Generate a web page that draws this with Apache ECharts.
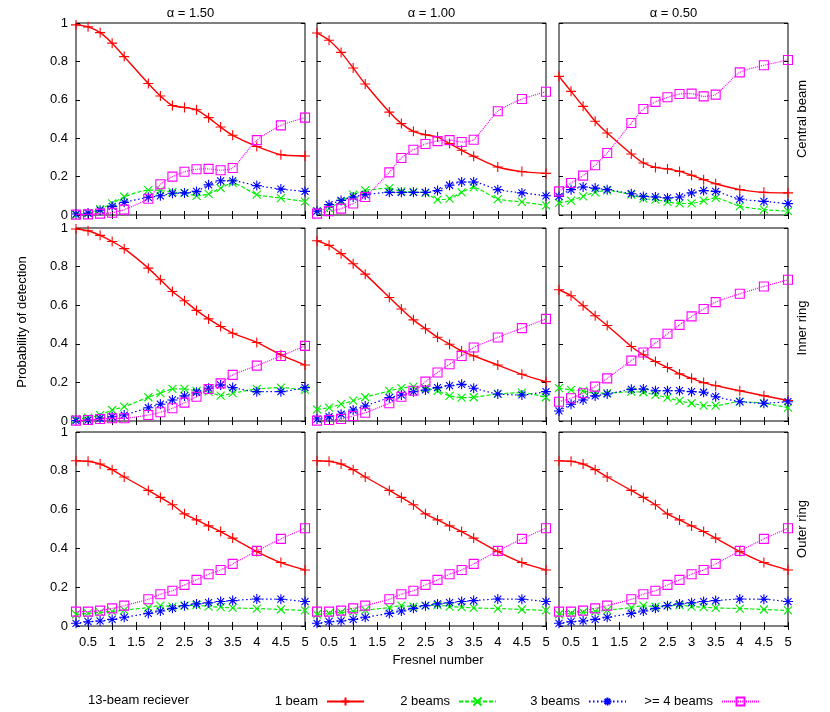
<!DOCTYPE html>
<html>
<head>
<meta charset="utf-8">
<script src="https://cdn.jsdelivr.net/npm/echarts@6/dist/echarts.min.js"></script>
<style>
  html, body { margin: 0; padding: 0; background: #fff; }
  #chart { width: 830px; height: 712px; }
</style>
</head>
<body>
<div id="chart"></div>
<script>
// Fresnel numbers of the sampled points (no point at 1.5)
const fresnel = [0.25, 0.5, 0.75, 1, 1.25, 1.75, 2, 2.25, 2.5, 2.75, 3, 3.25, 3.5, 4, 4.5, 5];
const xTickValues = [0.5, 1, 1.5, 2, 2.5, 3, 3.5, 4, 4.5, 5];
const alphaLabels = ["α = 1.50", "α = 1.00", "α = 0.50"];
const ringLabels = ["Central beam", "Inner ring", "Outer ring"];
const seriesNames = ["1 beam", "2 beams", "3 beams", ">= 4 beams"];

// each panel: [1 beam, 2 beams, 3 beams, >= 4 beams]
const central150 = [
    [0.99, 0.98, 0.95, 0.895, 0.825, 0.685, 0.62, 0.57, 0.56, 0.548, 0.507, 0.458, 0.415, 0.357, 0.314, 0.307],
    [0.0, 0.01, 0.03, 0.06, 0.095, 0.13, 0.128, 0.12, 0.115, 0.1, 0.11, 0.14, 0.167, 0.106, 0.088, 0.07],
    [0.005, 0.01, 0.025, 0.045, 0.066, 0.092, 0.1, 0.113, 0.115, 0.123, 0.157, 0.178, 0.178, 0.153, 0.135, 0.123],
    [0.002, 0.003, 0.007, 0.012, 0.028, 0.085, 0.16, 0.2, 0.225, 0.238, 0.24, 0.233, 0.245, 0.39, 0.467, 0.507],
];
const central100 = [
    [0.948, 0.91, 0.847, 0.766, 0.682, 0.536, 0.476, 0.436, 0.418, 0.406, 0.372, 0.337, 0.306, 0.25, 0.226, 0.217],
    [0.02, 0.036, 0.07, 0.106, 0.128, 0.14, 0.123, 0.12, 0.115, 0.08, 0.085, 0.118, 0.144, 0.083, 0.068, 0.05],
    [0.02, 0.054, 0.076, 0.094, 0.106, 0.118, 0.118, 0.118, 0.118, 0.127, 0.155, 0.172, 0.172, 0.132, 0.115, 0.1],
    [0.007, 0.02, 0.033, 0.06, 0.094, 0.222, 0.297, 0.34, 0.37, 0.385, 0.39, 0.38, 0.392, 0.54, 0.604, 0.642],
];
const central050 = [
    [0.722, 0.644, 0.566, 0.488, 0.427, 0.318, 0.271, 0.248, 0.24, 0.227, 0.207, 0.184, 0.163, 0.132, 0.118, 0.115],
    [0.063, 0.075, 0.097, 0.118, 0.128, 0.106, 0.085, 0.08, 0.068, 0.06, 0.06, 0.075, 0.089, 0.045, 0.028, 0.02],
    [0.097, 0.132, 0.146, 0.14, 0.132, 0.111, 0.097, 0.094, 0.089, 0.094, 0.115, 0.127, 0.123, 0.083, 0.071, 0.059],
    [0.123, 0.167, 0.205, 0.259, 0.323, 0.479, 0.552, 0.589, 0.613, 0.63, 0.632, 0.618, 0.627, 0.743, 0.78, 0.807],
];
const inner150 = [
    [0.995, 0.986, 0.962, 0.93, 0.893, 0.792, 0.732, 0.671, 0.623, 0.573, 0.529, 0.49, 0.455, 0.407, 0.343, 0.29],
    [0.01, 0.017, 0.031, 0.057, 0.074, 0.123, 0.144, 0.166, 0.166, 0.156, 0.152, 0.131, 0.144, 0.166, 0.173, 0.161],
    [0.002, 0.005, 0.014, 0.022, 0.031, 0.069, 0.087, 0.109, 0.13, 0.149, 0.17, 0.187, 0.173, 0.152, 0.152, 0.173],
    [0.002, 0.005, 0.01, 0.014, 0.014, 0.031, 0.045, 0.066, 0.095, 0.126, 0.166, 0.195, 0.239, 0.287, 0.337, 0.389],
];
const inner100 = [
    [0.934, 0.91, 0.867, 0.815, 0.761, 0.64, 0.58, 0.524, 0.478, 0.434, 0.398, 0.363, 0.337, 0.29, 0.242, 0.204],
    [0.06, 0.069, 0.087, 0.105, 0.123, 0.156, 0.17, 0.178, 0.17, 0.156, 0.13, 0.121, 0.123, 0.14, 0.147, 0.123],
    [0.01, 0.022, 0.035, 0.057, 0.078, 0.121, 0.135, 0.152, 0.161, 0.173, 0.183, 0.19, 0.17, 0.14, 0.135, 0.152],
    [0.002, 0.005, 0.01, 0.026, 0.043, 0.092, 0.126, 0.157, 0.204, 0.251, 0.294, 0.337, 0.381, 0.433, 0.481, 0.529],
];
const inner050 = [
    [0.68, 0.649, 0.597, 0.545, 0.495, 0.386, 0.343, 0.308, 0.277, 0.244, 0.221, 0.199, 0.183, 0.157, 0.131, 0.106],
    [0.17, 0.161, 0.156, 0.144, 0.144, 0.152, 0.149, 0.135, 0.121, 0.104, 0.092, 0.08, 0.08, 0.1, 0.092, 0.069],
    [0.052, 0.087, 0.109, 0.13, 0.14, 0.164, 0.166, 0.157, 0.157, 0.157, 0.152, 0.149, 0.126, 0.1, 0.092, 0.1],
    [0.1, 0.118, 0.144, 0.178, 0.221, 0.313, 0.355, 0.403, 0.452, 0.498, 0.542, 0.58, 0.616, 0.659, 0.697, 0.732],
];
// outer ring looks the same for every alpha
const outer150 = [
    [0.852, 0.849, 0.835, 0.806, 0.768, 0.699, 0.663, 0.625, 0.578, 0.547, 0.516, 0.487, 0.453, 0.384, 0.327, 0.289],
    [0.06, 0.065, 0.07, 0.075, 0.082, 0.095, 0.105, 0.1, 0.105, 0.108, 0.1, 0.097, 0.093, 0.09, 0.085, 0.08],
    [0.014, 0.022, 0.026, 0.034, 0.045, 0.065, 0.077, 0.091, 0.105, 0.114, 0.12, 0.126, 0.131, 0.139, 0.138, 0.126],
    [0.074, 0.074, 0.079, 0.091, 0.105, 0.138, 0.164, 0.182, 0.212, 0.238, 0.267, 0.289, 0.32, 0.387, 0.449, 0.504],
];
const outer100 = outer150;
const outer050 = outer150;

const panels = [
    [central150, central100, central050],
    [inner150, inner100, inner050],
    [outer150, outer100, outer050],
];

const FONT = "Liberation Sans, Arial, sans-serif";
const lefts = [76, 317, 559];
const tops = [23, 228, 432];
const heights = [192, 193, 194];
const panelWidth = 229;

const styles = [
    { color: "#ff0000", type: "solid", symbol: "path://M0,5L10,5M5,0L5,10", size: 10 },
    { color: "#00ee00", type: [4, 2], symbol: "path://M0,0L10,10M10,0L0,10", size: 8 },
    { color: "#0000ff", type: [1.5, 2.5], symbol: "path://M0,5L10,5M5,0L5,10M1.5,1.5L8.5,8.5M8.5,1.5L1.5,8.5", size: 10 },
    { color: "#ff00ff", type: [1, 1], symbol: "path://M0,0L10,0L10,10L0,10Z", size: 9 },
];
// right edge of each legend sample line (from the right border of the page)
const legendRight = [465, 333, 203, 70];

const grids = [];
const xAxes = [];
const yAxes = [];
const series = [];

const tickStyle = { inside: true, length: 4, lineStyle: { color: "#000", width: 1 } };
const labelStyle = { color: "#000", fontSize: 13, fontFamily: FONT };

for (let r = 0; r < 3; r++) {
    for (let c = 0; c < 3; c++) {
        const g = grids.length;
        grids.push({
            left: lefts[c], top: tops[r], width: panelWidth, height: heights[r],
            show: true, borderColor: "#000", borderWidth: 1, backgroundColor: "transparent",
        });
        ["bottom", "top"].forEach((pos) => {
            xAxes.push({
                type: "value", gridIndex: g, position: pos, min: 0.25, max: 5,
                axisLine: { show: false },
                axisTick: Object.assign({ customValues: xTickValues }, tickStyle),
                axisLabel: Object.assign({ show: pos === "bottom" && r === 2, customValues: xTickValues, margin: 10 }, labelStyle),
                splitLine: { show: false },
            });
        });
        ["left", "right"].forEach((pos) => {
            yAxes.push({
                type: "value", gridIndex: g, position: pos, min: 0, max: 1, interval: 0.2,
                axisLine: { show: false },
                axisTick: tickStyle,
                axisLabel: Object.assign({ show: pos === "left" && c === 0, margin: 8 }, labelStyle),
                splitLine: { show: false },
            });
        });
        panels[r][c].forEach((values, k) => {
            const st = styles[k];
            series.push({
                name: seriesNames[k],
                type: "line",
                xAxisIndex: 2 * g,
                yAxisIndex: 2 * g,
                data: fresnel.map((x, i) => [x, values[i]]),
                smooth: 0.2,
                clip: false,
                symbol: st.symbol,
                symbolSize: st.size,
                itemStyle: { color: "rgba(0,0,0,0)", borderColor: st.color, borderWidth: 1.1 },
                lineStyle: { color: st.color, width: k === 0 ? 1.4 : 1.2, type: st.type },
                emphasis: { disabled: true },
                z: 2 + k,
            });
        });
    }
}

// one legend per entry so each sits in its own fixed column
const legends = seriesNames.map((name, k) => ({
    data: [name],
    right: legendRight[k],
    top: 695,
    padding: 0,
    align: "right",
    itemWidth: 37,
    itemHeight: 10,
    selectedMode: false,
    textStyle: { color: "#000", fontSize: 13, fontFamily: FONT, padding: [0, 4, 0, 0] },
}));

const graphics = [];
alphaLabels.forEach((t, c) => {
    graphics.push({
        type: "text", x: lefts[c] + panelWidth / 2, y: 13,
        style: { text: t, font: "13px " + FONT, fill: "#000", align: "center", verticalAlign: "middle" },
    });
});
const ringY = [119, 328, 529];
ringLabels.forEach((t, r) => {
    graphics.push({
        type: "text", x: 802, y: ringY[r], rotation: Math.PI / 2,
        style: { text: t, font: "13px " + FONT, fill: "#000", align: "center", verticalAlign: "middle" },
    });
});
graphics.push({
    type: "text", x: 22, y: 322, rotation: Math.PI / 2,
    style: { text: "Probability of detection", font: "13px " + FONT, fill: "#000", align: "center", verticalAlign: "middle" },
});
graphics.push({
    type: "text", x: 438, y: 660,
    style: { text: "Fresnel number", font: "13px " + FONT, fill: "#000", align: "center", verticalAlign: "middle" },
});
graphics.push({
    type: "text", x: 88, y: 700,
    style: { text: "13-beam reciever", font: "13px " + FONT, fill: "#000", align: "left", verticalAlign: "middle" },
});

const chart = echarts.init(document.getElementById("chart"));
chart.setOption({
    animation: false,
    backgroundColor: "#fff",
    grid: grids,
    xAxis: xAxes,
    yAxis: yAxes,
    series: series,
    legend: legends,
    graphic: graphics,
});
window.addEventListener("resize", () => chart.resize());
</script>
</body>
</html>
